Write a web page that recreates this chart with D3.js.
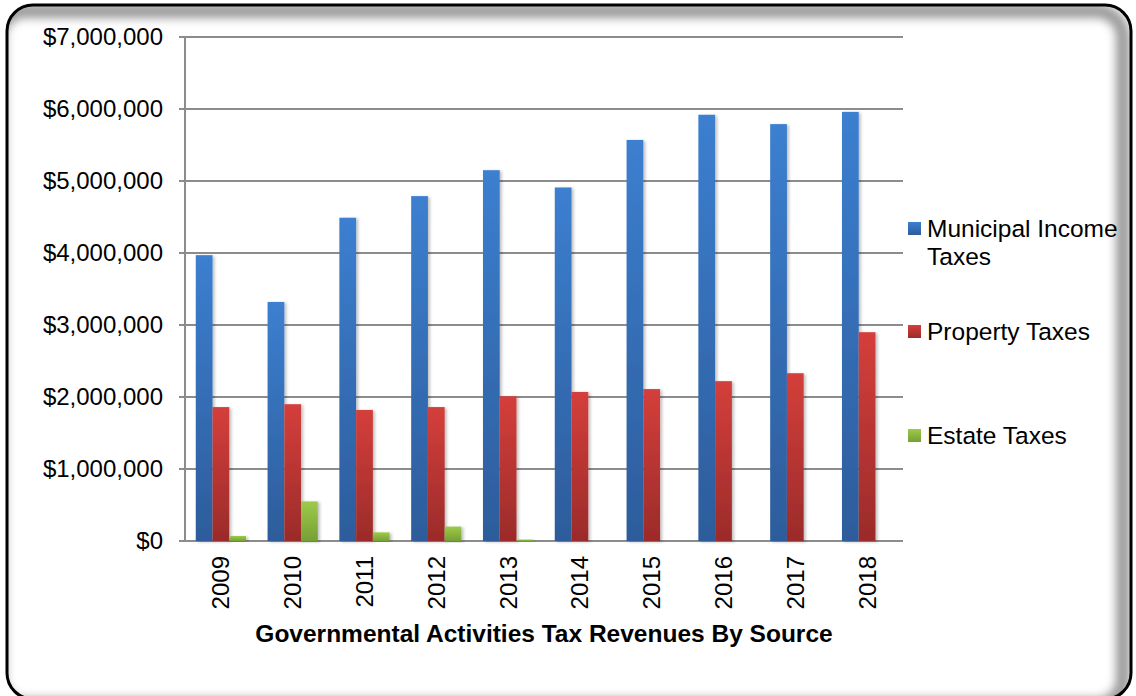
<!DOCTYPE html>
<html lang="en">
<head>
<meta charset="utf-8">
<title>Governmental Activities Tax Revenues By Source</title>
<script src="https://cdn.jsdelivr.net/npm/d3@7"></script>
<style>
  html, body { margin: 0; padding: 0; background: #fff; }
  svg { display: block; font-family: Arial, "Liberation Sans", sans-serif; }
  .grid line { stroke: #8c8c8c; stroke-width: 2px; }
  .tick-label { font-size: 24px; fill: #000; }
  .legend text { font-size: 24.5px; fill: #000; }
  .title { font-size: 24.5px; font-weight: bold; fill: #000; }
</style>
</head>
<body>
<div id="chart"></div>
<script>
// data
var years = ["2009", "2010", "2011", "2012", "2013", "2014", "2015", "2016", "2017", "2018"];
var municipalIncome = [3970000, 3320000, 4490000, 4790000, 5150000, 4910000, 5570000, 5920000, 5790000, 5960000];
var propertyTaxes   = [1860000, 1900000, 1820000, 1860000, 2010000, 2070000, 2110000, 2220000, 2330000, 2900000];
var estateTaxes     = [70000, 550000, 120000, 200000, 20000, 0, 0, 0, 0, 0];
var seriesNames = ["Municipal Income Taxes", "Property Taxes", "Estate Taxes"];
var yTicks = [0, 1000000, 2000000, 3000000, 4000000, 5000000, 6000000, 7000000];

var series = [
  { key: "mit", name: seriesNames[0], values: municipalIncome, top: "#3c7fd0", bottom: "#2d5c9b" },
  { key: "pt",  name: seriesNames[1], values: propertyTaxes,   top: "#d43f3b", bottom: "#9b2b2a" },
  { key: "et",  name: seriesNames[2], values: estateTaxes,     top: "#9dca4b", bottom: "#76a034" }
];

var W = 1136, H = 696;
var margin = { top: 37, left: 185, right: 233, bottom: 155 };
var innerW = W - margin.left - margin.right;
var innerH = H - margin.top - margin.bottom;

var svg = d3.select("#chart").append("svg")
  .attr("width", W)
  .attr("height", H);

var defs = svg.append("defs");

// frame with inner shadow on top and right
var frame = { x: 7, y: 5, w: 1124, h: 694, r: 26 };
defs.append("clipPath").attr("id", "frameClip")
  .append("rect")
  .attr("x", frame.x).attr("y", frame.y)
  .attr("width", frame.w).attr("height", frame.h)
  .attr("rx", frame.r);
var blur = defs.append("filter").attr("id", "soft")
  .attr("x", "-5%").attr("y", "-5%").attr("width", "110%").attr("height", "110%");
blur.append("feGaussianBlur").attr("stdDeviation", 5);

svg.append("rect")
  .attr("x", frame.x).attr("y", frame.y)
  .attr("width", frame.w).attr("height", frame.h)
  .attr("rx", frame.r)
  .attr("fill", "#fff");

svg.append("g").attr("clip-path", "url(#frameClip)")
  .append("rect")
  .attr("x", frame.x - 8).attr("y", frame.y + 6)
  .attr("width", frame.w).attr("height", frame.h)
  .attr("rx", frame.r)
  .attr("fill", "none")
  .attr("stroke", "#9a9a9a")
  .attr("stroke-width", 14)
  .attr("filter", "url(#soft)");

svg.append("rect")
  .attr("x", frame.x).attr("y", frame.y)
  .attr("width", frame.w).attr("height", frame.h)
  .attr("rx", frame.r)
  .attr("fill", "none")
  .attr("stroke", "#000")
  .attr("stroke-width", 3);

// gradients for bars
series.forEach(function (s) {
  var g = defs.append("linearGradient")
    .attr("id", "grad-" + s.key)
    .attr("x1", 0).attr("y1", 0).attr("x2", 0).attr("y2", 1)
    .attr("gradientUnits", "objectBoundingBox");
  g.append("stop").attr("offset", "0%").attr("stop-color", s.top);
  g.append("stop").attr("offset", "100%").attr("stop-color", s.bottom);
});

var shadow = defs.append("filter").attr("id", "barShadow")
  .attr("x", "-20%").attr("y", "-5%").attr("width", "160%").attr("height", "115%");
shadow.append("feDropShadow")
  .attr("dx", 2).attr("dy", 1).attr("stdDeviation", 1.5)
  .attr("flood-color", "#000").attr("flood-opacity", 0.25);

var g = svg.append("g")
  .attr("transform", "translate(" + margin.left + "," + margin.top + ")");

var x = d3.scaleBand().domain(years).range([0, innerW]).paddingInner(0.3).paddingOuter(0.15);
var xs = d3.scaleBand().domain(series.map(function (s) { return s.key; })).range([0, x.bandwidth()]);
var y = d3.scaleLinear().domain([0, 7000000]).range([innerH, 0]);

// gridlines
var grid = g.append("g").attr("class", "grid");
grid.selectAll("line.h").data(yTicks).enter().append("line")
  .attr("class", "h")
  .attr("x1", -6).attr("x2", innerW)
  .attr("y1", function (d) { return y(d); })
  .attr("y2", function (d) { return y(d); });
grid.append("line")
  .attr("x1", 0).attr("x2", 0)
  .attr("y1", 0).attr("y2", innerH);

// y tick labels
var fmt = d3.format("$,.0f");
g.selectAll("text.ylab").data(yTicks).enter().append("text")
  .attr("class", "tick-label")
  .attr("x", -22)
  .attr("y", function (d) { return y(d); })
  .attr("dy", "0.35em")
  .attr("text-anchor", "end")
  .text(function (d) { return fmt(d); });

// bars
var groups = g.selectAll("g.year").data(years).enter().append("g")
  .attr("class", "year")
  .attr("transform", function (d) { return "translate(" + x(d) + ",0)"; });

groups.selectAll("rect").data(function (d, i) {
    return series.map(function (s) { return { key: s.key, value: s.values[i] }; });
  })
  .enter().append("rect")
  .filter(function (d) { return d.value > 0; })
  .attr("x", function (d) { return xs(d.key); })
  .attr("width", xs.bandwidth())
  .attr("y", function (d) { return y(d.value); })
  .attr("height", function (d) { return innerH - y(d.value); })
  .attr("fill", function (d) { return "url(#grad-" + d.key + ")"; })
  .attr("filter", "url(#barShadow)");

// x labels, rotated
g.selectAll("text.xlab").data(years).enter().append("text")
  .attr("class", "tick-label")
  .attr("transform", function (d) {
    return "translate(" + (x(d) + x.bandwidth() / 2) + "," + (innerH + 15) + ") rotate(-90)";
  })
  .attr("dy", "0.35em")
  .attr("text-anchor", "end")
  .text(function (d) { return d; });

// axis title
svg.append("text")
  .attr("class", "title")
  .attr("x", 544)
  .attr("y", 642)
  .attr("text-anchor", "middle")
  .text("Governmental Activities Tax Revenues By Source");

// legend
var legendRows = [
  { key: "mit", lines: ["Municipal Income", "Taxes"], y: 228 },
  { key: "pt",  lines: ["Property Taxes"], y: 331 },
  { key: "et",  lines: ["Estate Taxes"], y: 435 }
];
var legend = svg.append("g").attr("class", "legend");
legendRows.forEach(function (row) {
  legend.append("rect")
    .attr("x", 908).attr("y", row.y - 6)
    .attr("width", 13).attr("height", 13)
    .attr("fill", "url(#grad-" + row.key + ")");
  var t = legend.append("text").attr("x", 927).attr("y", row.y).attr("dy", "0.35em");
  row.lines.forEach(function (line, i) {
    t.append("tspan").attr("x", 927).attr("dy", i === 0 ? "0.35em" : "1.15em").text(line);
  });
});
</script>
</body>
</html>
